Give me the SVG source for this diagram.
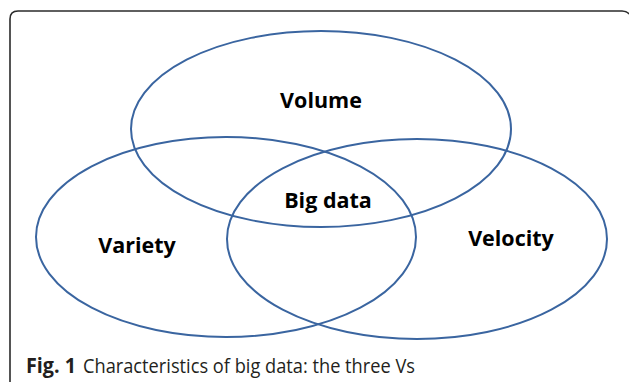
<svg xmlns="http://www.w3.org/2000/svg" width="629" height="382" viewBox="0 0 629 382">
<style>
.v{fill:none;stroke:#3A65A0;stroke-width:2}
.lbl{font-family:"Open Sans","Liberation Sans",sans-serif;font-weight:bold;font-size:21.5px;fill:#000;text-anchor:middle}
.cap{font-family:"Open Sans","Liberation Sans",sans-serif;font-size:20.5px;fill:#231f20}
</style>
<rect width="629" height="382" fill="#fff"/>
<path d="M10,390 L10,19 Q10,11 18,11 L622,11 Q627,11 629,14" fill="none" stroke="#2b2b2b" stroke-width="1.6"/>
<g id="volume">
<ellipse class="v" cx="321" cy="129" rx="190" ry="98"/>
<text class="lbl" x="321" y="108">Volume</text>
</g>
<g id="variety">
<ellipse class="v" cx="226" cy="237" rx="190" ry="100"/>
<text class="lbl" x="137" y="253">Variety</text>
</g>
<g id="velocity">
<ellipse class="v" cx="417" cy="239" rx="190" ry="100"/>
<text class="lbl" x="511" y="246">Velocity</text>
</g>
<g id="bigdata">
<text class="lbl" x="328" y="208">Big data</text>
</g>
<text class="cap" x="26" y="373" font-weight="bold" textLength="50" lengthAdjust="spacingAndGlyphs">Fig. 1</text>
<text class="cap" x="83" y="373" textLength="332" lengthAdjust="spacingAndGlyphs">Characteristics of big data: the three Vs</text>
</svg>
